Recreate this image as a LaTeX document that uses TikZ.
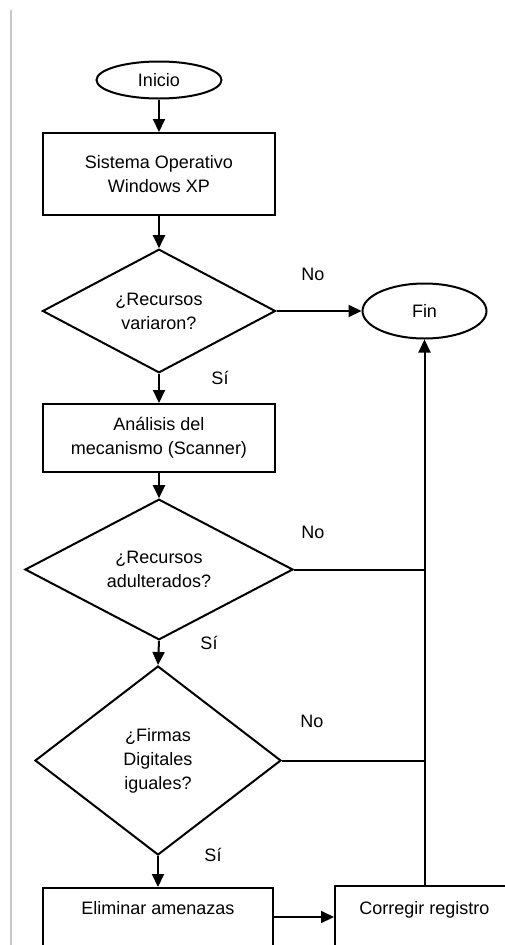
\documentclass[tikz,border=0pt]{standalone}
\usepackage{fontspec}
\setmainfont{Liberation Sans}
\usetikzlibrary{shapes.geometric,arrows.meta}
\begin{document}
\begin{tikzpicture}[x=1pt,y=-1pt,
  every node/.style={font=\fontsize{18}{24}\selectfont},
  box/.style={draw,line width=2pt,rectangle,inner sep=0pt,align=center},
  term/.style={draw,line width=2pt,ellipse,inner sep=0pt},
  dec/.style={draw,line width=2pt,diamond,inner sep=0pt,align=center},
  lbl/.style={inner sep=0pt},
  arr/.style={line width=2pt,-{Triangle[length=13pt,width=12pt]}},
  ln/.style={line width=2pt}]
\fill[white] (0,0) rectangle (505,945);
\useasboundingbox (0,0) rectangle (505,945);
\clip (0,0) rectangle (505,945);
\draw[black!22,line width=1.2pt] (11,10) -- (11,945);

\node[term,minimum width=125,minimum height=37] (inicio) at (159,80) {Inicio};
\node[box,minimum width=232,minimum height=82] (so) at (159,174) {Sistema Operativo\\Windows XP};
\node[dec,minimum width=233,minimum height=107] (d1) at (159,311) {¿Recursos\\variaron?};
\node[term,minimum width=124,minimum height=55] (fin) at (424.5,311) {Fin};
\node[box,minimum width=232,minimum height=68] (an) at (159,438) {Análisis del\\mecanismo (Scanner)};
\node[dec,minimum width=268,minimum height=115] (d2) at (159,569.5) {¿Recursos\\adulterados?};
\node[dec,minimum width=246,minimum height=189] (d3) at (158,760.5) {¿Firmas\\Digitales\\iguales?};
\node[box,minimum width=230,minimum height=120,anchor=north] (elim) at (158,887) {};
\node[box,minimum width=240,minimum height=120,anchor=north west] (corr) at (334,885) {};
\coordinate (corrtop) at (424.5,885);
\node[anchor=base] (elimt) at (158,914) {Eliminar amenazas};
\node[anchor=base] (corrt) at (424.5,914) {Corregir registro};

\node[lbl] (no1) at (313,274) {No};
\node[lbl] (no2) at (313,532) {No};
\node[lbl] (no3) at (312,721) {No};
\node[lbl] (si1) at (220,378) {Sí};
\node[lbl] (si2) at (209,643) {Sí};
\node[lbl] (si3) at (213,855) {Sí};

\draw[arr] (inicio.south) -- (so.north);
\draw[arr] (so.south) -- (d1.north);
\draw[arr] (d1.east) -- (fin.west);
\draw[arr] (d1.south) -- (an.north);
\draw[arr] (an.south) -- (d2.north);
\draw[arr] (d2.south) -- (d3.north);
\draw[arr] (d3.south) -- (elim.north);
\draw[ln] (d2.east) -- (d2.east -| corrtop);
\draw[ln] (d3.east) -- (d3.east -| corrtop);
\draw[arr] (corrtop) -- (fin.south);
\draw[arr] (elim.east |- 0,917) -- (corr.west |- 0,917);
\end{tikzpicture}
\end{document}
